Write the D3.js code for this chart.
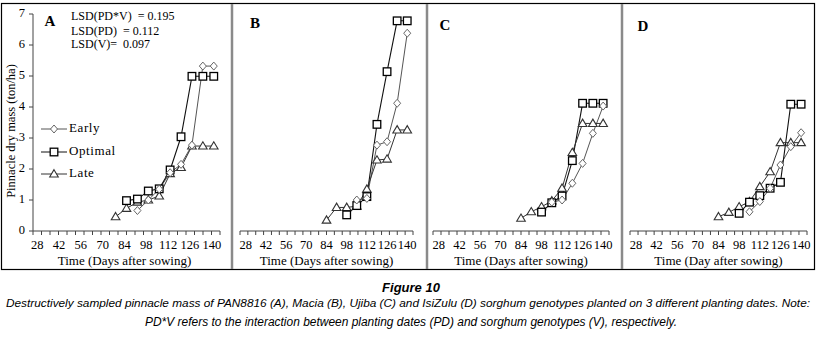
<!DOCTYPE html>
<html>
<head>
<meta charset="utf-8">
<script src="https://cdn.jsdelivr.net/npm/d3@7"></script>
<style>
  body { margin: 0; background: #fff; }
  svg { display: block; }
</style>
</head>
<body>
<svg width="820" height="342"></svg>
<script>
// sampling days (days after sowing)
const days = [77, 84, 91, 98, 105, 112, 119, 126, 133, 140];
const xTickLabels = [28, 42, 56, 70, 84, 98, 112, 126, 140];
const yTickLabels = [0, 1, 2, 3, 4, 5, 6, 7];
const seriesNames = ['Early', 'Optimal', 'Late'];
const panelLetters = ['A', 'B', 'C', 'D'];
const xTitles = ['Time (Days after sowing)', 'Time (Days after sowing)', 'Time (Days after sowing)', 'Time (Day after sowing)'];
const lsdLines = ['LSD(PD*V)  = 0.195', 'LSD(PD)  = 0.112', 'LSD(V)=  0.097'];

// pinnacle dry mass (ton/ha), null = not sampled
const earlyA   = [null, null, 0.66, 1.00, 1.35, 1.88, 2.15, 2.77, 5.32, 5.32];
const optimalA = [null, 0.98, 1.03, 1.29, 1.36, 1.97, 3.04, 4.99, 4.99, 4.99];
const lateA    = [0.46, 0.73, 0.93, 1.00, 1.13, 1.85, 2.05, 2.74, 2.74, 2.74];

const earlyB   = [null, null, null, null, 1.00, 1.05, 2.77, 2.88, 4.12, 6.38];
const optimalB = [null, null, null, 0.52, 0.82, 1.11, 3.44, 5.14, 6.78, 6.78];
const lateB    = [null, 0.35, 0.76, 0.76, 0.80, 1.35, 2.29, 2.32, 3.26, 3.26];

const earlyC   = [null, null, null, null, 0.93, 1.00, 1.54, 2.18, 3.15, 4.03];
const optimalC = [null, null, null, 0.61, 0.91, 1.13, 2.27, 4.12, 4.12, 4.12];
const lateC    = [null, 0.41, 0.62, 0.78, 0.97, 1.38, 2.53, 3.47, 3.47, 3.47];

const earlyD   = [null, null, null, null, 0.62, 0.95, 1.38, 2.13, 2.72, 3.17];
const optimalD = [null, null, null, 0.57, 0.93, 1.14, 1.38, 1.57, 4.09, 4.09];
const lateD    = [null, 0.46, 0.60, 0.78, 0.95, 1.43, 1.91, 2.85, 2.85, 2.85];

const panelData = [
  [earlyA, optimalA, lateA],
  [earlyB, optimalB, lateB],
  [earlyC, optimalC, lateC],
  [earlyD, optimalD, lateD]
];

// pixel extents of each panel's x axis
const panelRanges = [[33, 220], [240, 413], [433, 609], [630, 807]];
const serif = '"Liberation Serif", "Times New Roman", serif';
const narrow = '"Liberation Sans Narrow", "Liberation Sans", sans-serif';

const svg = d3.select('svg');

const yScale = d3.scaleLinear().domain([0, 7]).range([231, 14]);

// frame + panel separators
svg.append('rect')
  .attr('x', 1.5).attr('y', 3.5).attr('width', 813).attr('height', 266)
  .attr('fill', 'none').attr('stroke', '#000').attr('stroke-width', 1.2);
[232, 427, 622].forEach(x => {
  svg.append('line').attr('x1', x).attr('x2', x).attr('y1', 4).attr('y2', 269)
    .attr('stroke', '#8a8a8a').attr('stroke-width', 2.5);
});

const markerStyle = {
  Early:   {stroke: '#666', line: '#555', lw: 1},
  Optimal: {stroke: '#000', line: '#111', lw: 1.1},
  Late:    {stroke: '#333', line: '#333', lw: 1}
};

function drawMarker(g, name, x, y) {
  const st = markerStyle[name];
  if (name === 'Early') {
    g.append('path')
      .attr('d', `M${x},${y - 4}L${x + 3.5},${y}L${x},${y + 4}L${x - 3.5},${y}Z`)
      .attr('fill', '#fff').attr('stroke', st.stroke).attr('stroke-width', 1);
  } else if (name === 'Optimal') {
    g.append('rect').attr('x', x - 3.8).attr('y', y - 3.8).attr('width', 7.6).attr('height', 7.6)
      .attr('fill', '#fff').attr('stroke', st.stroke).attr('stroke-width', 1.3);
  } else {
    g.append('path')
      .attr('d', `M${x},${y - 4.3}L${x + 4.3},${y + 3}L${x - 4.3},${y + 3}Z`)
      .attr('fill', '#fff').attr('stroke', st.stroke).attr('stroke-width', 1.1);
  }
}

panelData.forEach((series, p) => {
  const g = svg.append('g');
  const xScale = d3.scaleLinear().domain([24, 144]).range(panelRanges[p]);

  // x axis
  g.append('line')
    .attr('x1', panelRanges[p][0]).attr('x2', panelRanges[p][1])
    .attr('y1', yScale(0)).attr('y2', yScale(0))
    .attr('stroke', '#444').attr('stroke-width', 1);
  const minorTicks = d3.range(23).map(i => 24 + i * 120 / 22);
  g.selectAll('.xtick').data(minorTicks).join('line')
    .attr('x1', d => xScale(d)).attr('x2', d => xScale(d))
    .attr('y1', yScale(0)).attr('y2', yScale(0) + 4)
    .attr('stroke', '#444');
  g.selectAll('.xlab').data(xTickLabels).join('text')
    .attr('x', d => xScale(d) - (p === 0 ? 2 : 0)).attr('y', 249)
    .attr('text-anchor', 'middle')
    .style('font-family', serif).style('font-size', '12.5px')
    .text(d => d);
  g.append('text')
    .attr('x', (panelRanges[p][0] + panelRanges[p][1]) / 2 + (p === 0 ? -2 : 0)).attr('y', 265)
    .attr('text-anchor', 'middle')
    .style('font-family', serif).style('font-size', '13px')
    .text(xTitles[p]);

  // y axis only on the first panel
  if (p === 0) {
    g.append('line').attr('x1', 33).attr('x2', 33).attr('y1', yScale(0)).attr('y2', yScale(7))
      .attr('stroke', '#444');
    g.selectAll('.ytick').data(yTickLabels).join('line')
      .attr('x1', 29).attr('x2', 33)
      .attr('y1', d => yScale(d)).attr('y2', d => yScale(d))
      .attr('stroke', '#444');
    g.selectAll('.ylab').data(yTickLabels).join('text')
      .attr('x', 25).attr('y', d => yScale(d))
      .attr('text-anchor', 'end').attr('dominant-baseline', 'middle')
      .style('font-family', serif).style('font-size', '12.5px')
      .text(d => d);
    g.append('text')
      .attr('transform', 'translate(12,131) rotate(-90)')
      .attr('text-anchor', 'middle').attr('dominant-baseline', 'middle')
      .style('font-family', serif).style('font-size', '12.5px')
      .text('Pinnacle dry mass (ton/ha)');

    lsdLines.forEach((t, i) => {
      g.append('text').attr('x', 71).attr('y', [20, 35, 47.5][i])
        .style('font-family', serif).style('font-size', '12px')
        .style('white-space', 'pre')
        .text(t);
    });

    // legend
    seriesNames.forEach((name, i) => {
      const ly = [129, 152, 174][i];
      g.append('line').attr('x1', 41).attr('x2', 67).attr('y1', ly).attr('y2', ly)
        .attr('stroke', markerStyle[name].line).attr('stroke-width', 1);
      drawMarker(g, name, 54, ly);
      g.append('text').attr('x', 69).attr('y', ly)
        .attr('dominant-baseline', 'middle')
        .style('font-family', serif).style('font-size', '13px')
        .style('letter-spacing', '0.6px')
        .text(name);
    });
  }

  // panel letter
  const letterPos = [[50, 23], [255, 25], [445, 27], [643, 28]][p];
  g.append('text').attr('x', letterPos[0]).attr('y', letterPos[1])
    .attr('text-anchor', 'middle').attr('dominant-baseline', 'middle')
    .style('font-family', serif).style('font-size', '15px').style('font-weight', 'bold')
    .text(panelLetters[p]);

  // lines first, then markers on top
  series.forEach((vals, s) => {
    const name = seriesNames[s];
    const pts = days.map((d, i) => ({d: d, v: vals[i]})).filter(o => o.v !== null);
    const line = d3.line().x(o => xScale(o.d)).y(o => yScale(o.v));
    g.append('path').datum(pts)
      .attr('d', line)
      .attr('fill', 'none')
      .attr('stroke', markerStyle[name].line)
      .attr('stroke-width', markerStyle[name].lw);
  });
  [2, 1, 0].forEach(s => {
    const name = seriesNames[s];
    days.forEach((d, i) => {
      const v = series[s][i];
      if (v === null) return;
      drawMarker(g, name, xScale(d), yScale(v));
    });
  });
});

// caption
svg.append('text').attr('x', 411).attr('y', 292)
  .attr('text-anchor', 'middle')
  .style('font-family', narrow)
  .style('font-size', '13px').style('font-weight', 'bold').style('font-style', 'italic')
  .text('Figure 10');
svg.append('text').attr('x', 6).attr('y', 307)
  .attr('textLength', 804).attr('lengthAdjust', 'spacingAndGlyphs')
  .style('font-family', narrow)
  .style('font-size', '11.2px').style('font-style', 'italic')
  .text('Destructively sampled pinnacle mass of PAN8816 (A), Macia (B), Ujiba (C) and IsiZulu (D) sorghum genotypes planted on 3 different planting dates. Note:');
svg.append('text').attr('x', 145).attr('y', 326)
  .attr('textLength', 532).attr('lengthAdjust', 'spacingAndGlyphs')
  .style('font-family', narrow)
  .style('font-size', '12px').style('font-style', 'italic')
  .text('PD*V refers to the interaction between planting dates (PD) and sorghum genotypes (V), respectively.');
</script>
</body>
</html>
